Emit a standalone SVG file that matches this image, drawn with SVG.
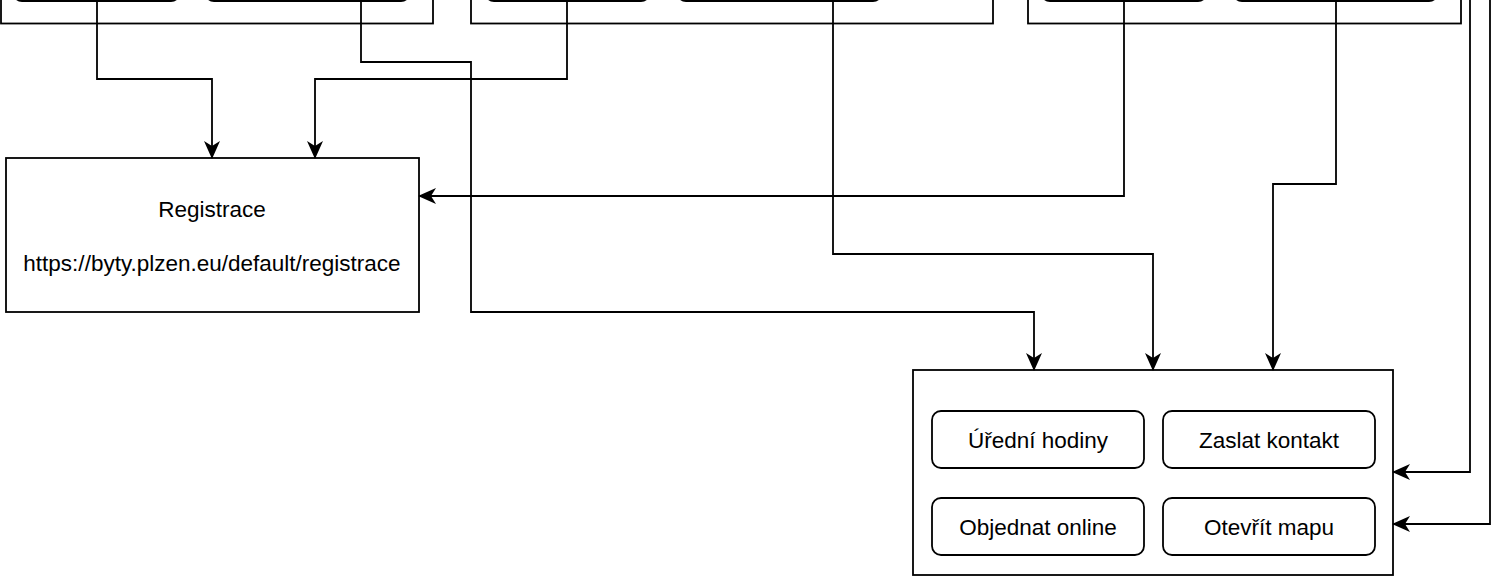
<svg xmlns="http://www.w3.org/2000/svg" width="1491" height="576" viewBox="0 0 1491 576">
<style>
.box{fill:#fff;stroke:#000;stroke-width:1.8}
.btn{fill:#fff;stroke:#000;stroke-width:1.8}
.ln{fill:none;stroke:#000;stroke-width:1.8}
.t{font-family:"Liberation Sans",Arial,sans-serif;font-size:22.5px;fill:#000;text-anchor:middle}
</style>
<defs>
<marker id="ar" markerUnits="userSpaceOnUse" markerWidth="20" markerHeight="18" refX="17" refY="8" orient="auto">
<path d="M0,0 L18,8 L0,16 L5,8 Z" fill="#000"/>
</marker>
</defs>
<rect width="1491" height="576" fill="#fff"/>
<g id="top-left">
<rect class="box" x="1" y="-40" width="432" height="63.5"/>
<rect class="btn" x="13" y="-57" width="167" height="58" rx="9"/>
<rect class="btn" x="205" y="-57" width="205" height="58" rx="9"/>
</g>
<g id="top-middle">
<rect class="box" x="471" y="-40" width="522" height="63.5"/>
<rect class="btn" x="485" y="-57" width="165" height="58" rx="9"/>
<rect class="btn" x="677" y="-57" width="205" height="58" rx="9"/>
</g>
<g id="top-right">
<rect class="box" x="1028" y="-40" width="433" height="63.5"/>
<rect class="btn" x="1041" y="-57" width="166" height="58" rx="9"/>
<rect class="btn" x="1233" y="-57" width="205" height="58" rx="9"/>
</g>
<g id="registrace">
<rect class="box" x="6" y="158" width="413" height="154"/>
<text class="t" x="212" y="217">Registrace</text>
<text class="t" x="212" y="271">https://byty.plzen.eu/default/registrace</text>
</g>
<g id="contact">
<rect class="box" x="913" y="370" width="480" height="205"/>
<rect class="btn" x="932" y="411" width="212" height="57" rx="9"/>
<text class="t" x="1038" y="448">Úřední hodiny</text>
<rect class="btn" x="1163" y="411" width="212" height="57" rx="9"/>
<text class="t" x="1269" y="448">Zaslat kontakt</text>
<rect class="btn" x="932" y="498" width="212" height="57" rx="9"/>
<text class="t" x="1038" y="535">Objednat online</text>
<rect class="btn" x="1163" y="498" width="212" height="57" rx="9"/>
<text class="t" x="1269" y="535">Otevřít mapu</text>
</g>
<g id="connectors">
<path class="ln" marker-end="url(#ar)" d="M97,1 V79 H212 V158"/>
<path class="ln" marker-end="url(#ar)" d="M361,1 V62 H471 V312 H1034 V370"/>
<path class="ln" marker-end="url(#ar)" d="M567,1 V79 H315 V158"/>
<path class="ln" marker-end="url(#ar)" d="M833,1 V254 H1153 V370"/>
<path class="ln" marker-end="url(#ar)" d="M1124,1 V196 H419"/>
<path class="ln" marker-end="url(#ar)" d="M1336,1 V184 H1273 V370"/>
<path class="ln" marker-end="url(#ar)" d="M1470,0 V472 H1393"/>
<path class="ln" marker-end="url(#ar)" d="M1490,0 V524 H1393"/>
</g>
</svg>
